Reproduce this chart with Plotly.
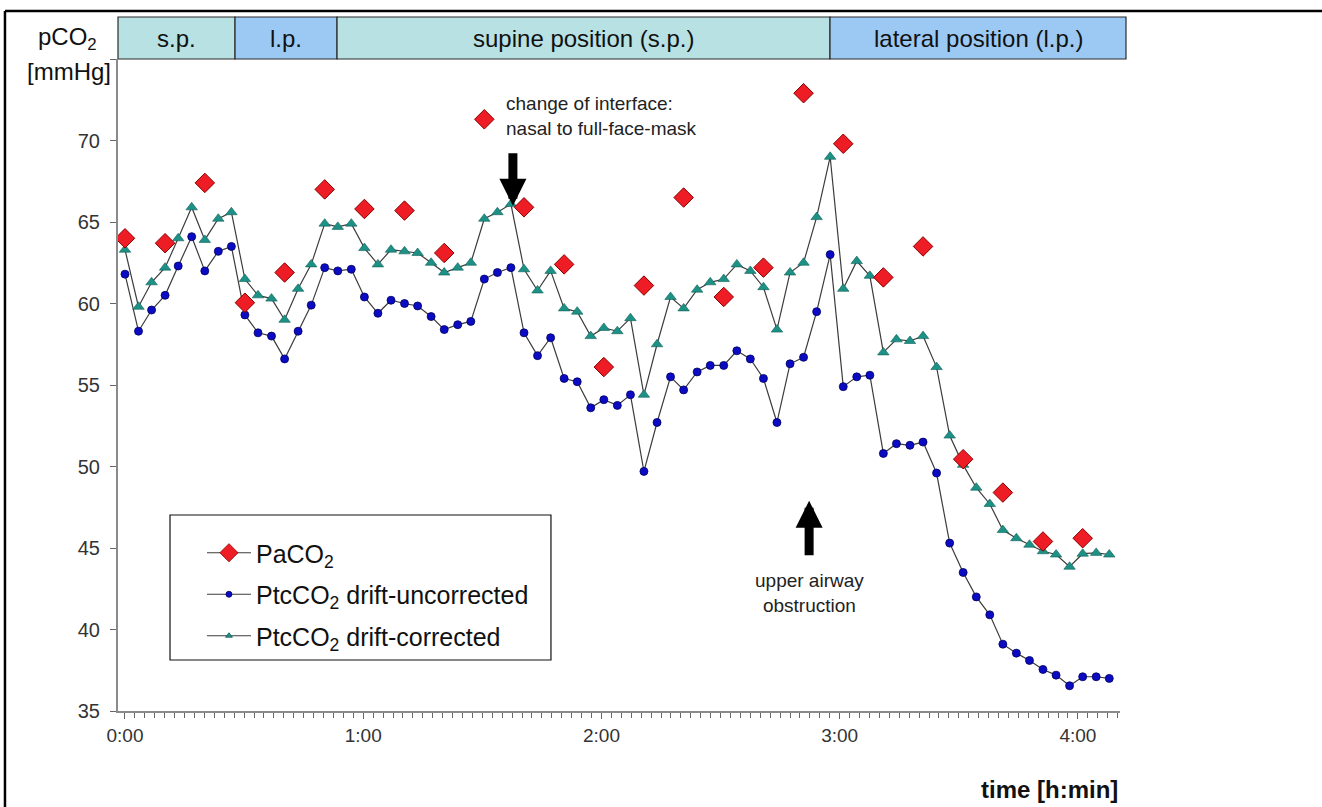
import plotly.graph_objects as go

# ---- data ----
time_min = [0, 3.4, 6.7, 10.1, 13.4, 16.8, 20.1, 23.5, 26.8, 30.2, 33.5, 36.9, 40.2, 43.6, 46.9,
            50.3, 53.6, 57.0, 60.3, 63.7, 67.0, 70.4, 73.7, 77.1, 80.4, 83.8, 87.1, 90.5, 93.8,
            97.2, 100.5, 103.9, 107.2, 110.6, 113.9, 117.3, 120.6, 124.0, 127.3, 130.7, 134.0,
            137.4, 140.7, 144.1, 147.4, 150.8, 154.1, 157.5, 160.8, 164.2, 167.5, 170.9, 174.2,
            177.6, 180.9, 184.3, 187.6, 191.0, 194.3, 197.7, 201.0, 204.4, 207.7, 211.1, 214.4,
            217.8, 221.1, 224.5, 227.8, 231.2, 234.5, 237.9, 241.2, 244.6, 247.9]

ptc_uncorrected = [61.8, 58.3, 59.6, 60.5, 62.3, 64.1, 62.0, 63.2, 63.5, 59.3, 58.2, 58.0, 56.6,
                   58.3, 59.9, 62.2, 62.0, 62.1, 60.4, 59.4, 60.2, 60.0, 59.85, 59.2, 58.4, 58.7,
                   58.9, 61.5, 61.9, 62.2, 58.2, 56.8, 57.9, 55.4, 55.2, 53.6, 54.1, 53.75, 54.4,
                   49.7, 52.7, 55.5, 54.7, 55.8, 56.2, 56.2, 57.1, 56.6, 55.4, 52.7, 56.3, 56.7,
                   59.5, 63.0, 54.9, 55.5, 55.6, 50.8, 51.4, 51.3, 51.5, 49.6, 45.3, 43.5, 42.0,
                   40.9, 39.1, 38.55, 38.1, 37.55, 37.2, 36.55, 37.1, 37.1, 37.0]

ptc_corrected = [63.3, 59.8, 61.3, 62.2, 64.0, 65.9, 63.9, 65.2, 65.6, 61.5, 60.5, 60.3, 59.0,
                 60.9, 62.4, 64.9, 64.7, 64.9, 63.4, 62.4, 63.3, 63.2, 63.1, 62.5, 61.9, 62.2,
                 62.5, 65.2, 65.6, 66.1, 62.1, 60.8, 62.0, 59.7, 59.5, 58.0, 58.5, 58.3, 59.1,
                 54.4, 57.5, 60.4, 59.7, 60.85, 61.3, 61.5, 62.4, 62.0, 61.0, 58.4, 61.9, 62.5,
                 65.3, 69.0, 60.9, 62.6, 61.7, 57.0, 57.8, 57.7, 58.0, 56.1, 51.9, 50.1, 48.7,
                 47.7, 46.1, 45.6, 45.2, 44.8, 44.6, 43.85, 44.65, 44.7, 44.6]

paco2_time = [0, 10.1, 20.1, 30.2, 40.2, 50.3, 60.3, 70.4, 80.4, 90.5, 100.5, 110.6, 120.6,
              130.7, 140.7, 150.8, 160.8, 170.9, 180.9, 191.0, 201.0, 211.1, 221.1, 231.2, 241.2]
paco2 = [64.0, 63.7, 67.4, 60.05, 61.9, 67.0, 65.8, 65.7, 63.1, 71.3, 65.9, 62.4, 56.1, 61.1,
         66.5, 60.4, 62.2, 72.9, 69.8, 61.6, 63.5, 50.45, 48.4, 45.4, 45.6]

x_tick_vals = [0, 60, 120, 180, 240]
x_tick_text = ["0:00", "1:00", "2:00", "3:00", "4:00"]
y_tick_vals = [35, 40, 45, 50, 55, 60, 65, 70, 75]
y_tick_text = ["35", "40", "45", "50", "55", "60", "65", "70", ""]

position_labels = ["s.p.", "l.p.", "supine position (s.p.)", "lateral position (l.p.)"]
position_fill = ["#b7e1e3", "#9cc9f4", "#b7e1e3", "#9cc9f4"]
# band edges as fractions of plot width
position_edges = [0.0, 0.1168, 0.2186, 0.7106, 1.006]

FONT = "Arial, Liberation Sans, sans-serif"
LINE_COL = "#3c3c3c"
BLUE = "#0b0bc4"
TEAL = "#1d9185"
RED = "#ee1c24"

fig = go.Figure()

fig.add_trace(go.Scatter(
    x=time_min, y=ptc_uncorrected, mode="lines+markers", showlegend=False,
    line=dict(color=LINE_COL, width=1.2),
    marker=dict(symbol="circle", size=8, color=BLUE, line=dict(color="#000060", width=0.8)),
))
fig.add_trace(go.Scatter(
    x=time_min, y=ptc_corrected, mode="lines+markers", showlegend=False,
    line=dict(color=LINE_COL, width=1.2),
    marker=dict(symbol="triangle-up", size=10, color=TEAL, line=dict(color="#0f5f58", width=0.6)),
))
fig.add_trace(go.Scatter(
    x=paco2_time, y=paco2, mode="markers", showlegend=False,
    marker=dict(symbol="diamond", size=15, color=RED, line=dict(color="#8a0000", width=1)),
))

# legend entries (line + marker samples)
legend_items = [
    ("PaCO<sub>2</sub>", "diamond", 14, RED, "#8a0000"),
    ("PtcCO<sub>2</sub> drift-uncorrected", "circle", 6, BLUE, "#000060"),
    ("PtcCO<sub>2</sub> drift-corrected", "triangle-up", 6, TEAL, "#0f5f58"),
]
for i, (name, sym, sz, col, edge) in enumerate(legend_items):
    fig.add_trace(go.Scatter(
        x=[None], y=[None], mode="lines+markers", name=name, legendgroup=f"g{i}",
        line=dict(color=LINE_COL, width=1.2),
        marker=dict(symbol=sym, size=sz, color=col, line=dict(color=edge, width=0.8)),
    ))

shapes = []
annotations = []
for i, lab in enumerate(position_labels):
    x0, x1 = position_edges[i], position_edges[i + 1]
    shapes.append(dict(type="rect", xref="paper", yref="paper", x0=x0, x1=x1,
                       y0=1.0, y1=1.0644, fillcolor=position_fill[i],
                       line=dict(color="#2b2b2b", width=1.2), layer="below"))
    annotations.append(dict(xref="paper", yref="paper", x=(x0 + x1) / 2, y=1.0322,
                            text=lab, showarrow=False, xanchor="center", yanchor="middle",
                            font=dict(family=FONT, size=24, color="#111")))

# outer frame (top and left edges)
shapes.append(dict(type="line", xref="paper", yref="paper", x0=-0.1128, x1=1.205,
                   y0=1.0736, y1=1.0736, line=dict(color="black", width=2.5)))
shapes.append(dict(type="line", xref="paper", yref="paper", x0=-0.1128, x1=-0.1128,
                   y0=1.0736, y1=-0.16, line=dict(color="black", width=2.5)))

# legend frame
shapes.append(dict(type="rect", xref="paper", yref="paper", x0=0.0519, x1=0.4321,
                   y0=0.0782, y1=0.3006, fillcolor="white",
                   line=dict(color="#111", width=1.2), layer="above"))

# y axis title
annotations.append(dict(xref="paper", yref="paper", x=-0.019, y=1.0322, xanchor="right",
                        yanchor="middle", showarrow=False, text="pCO<sub>2</sub>",
                        font=dict(family=FONT, size=24, color="#111")))
annotations.append(dict(xref="paper", yref="paper", x=-0.005, y=0.981, xanchor="right",
                        yanchor="middle", showarrow=False, text="[mmHg]",
                        font=dict(family=FONT, size=24, color="#111")))
# x axis title
annotations.append(dict(xref="paper", yref="paper", x=1.0, y=-0.121, xanchor="right",
                        yanchor="middle", showarrow=False, text="<b>time [h:min]</b>",
                        font=dict(family=FONT, size=24, color="#111")))

# event annotations
annotations.append(dict(xref="paper", yref="paper", x=0.385, y=0.9126, xanchor="left",
                        yanchor="middle", showarrow=False, align="left",
                        text="change of interface:<br>nasal to full-face-mask",
                        font=dict(family=FONT, size=19, color="#222")))
annotations.append(dict(x=97.7, y=66.0, xref="x", yref="y", ax=0, ay=-54, showarrow=True,
                        arrowhead=2, arrowsize=0.6, arrowwidth=9, arrowcolor="black", text=""))
annotations.append(dict(x=172.3, y=47.9, xref="x", yref="y", ax=0, ay=56, showarrow=True,
                        arrowhead=2, arrowsize=0.6, arrowwidth=9, arrowcolor="black", text=""))
annotations.append(dict(xref="paper", yref="paper", x=0.69, y=0.181, xanchor="center",
                        yanchor="middle", showarrow=False, align="center",
                        text="upper airway<br>obstruction",
                        font=dict(family=FONT, size=19, color="#222")))

fig.update_layout(
    width=1322, height=807,
    margin=dict(l=118, r=202, t=59, b=96),
    paper_bgcolor="white", plot_bgcolor="white",
    font=dict(family=FONT, size=16, color="#222"),
    shapes=shapes, annotations=annotations,
    legend=dict(x=0.0838, y=0.2776, xanchor="left", yanchor="top",
                borderwidth=0, bgcolor="rgba(0,0,0,0)",
                font=dict(family=FONT, size=25, color="#111"),
                tracegroupgap=6, itemwidth=44),
    xaxis=dict(range=[-1.76, 250.6], tickvals=x_tick_vals, ticktext=x_tick_text,
               showgrid=False, zeroline=False, showline=True, linecolor="#8a8a8a",
               linewidth=2, ticks="outside", ticklen=6, tickcolor="#666",
               tickfont=dict(family=FONT, size=19, color="#333"),
               minor=dict(dtick=2.5, tick0=0, ticks="outside", ticklen=5, tickcolor="#666",
                          showgrid=False)),
    yaxis=dict(range=[35, 75], tickvals=y_tick_vals, ticktext=y_tick_text,
               showgrid=False, zeroline=False, showline=True, linecolor="#8a8a8a",
               linewidth=2, ticks="outside", ticklen=6, tickcolor="#666",
               ticklabelstandoff=6,
               tickfont=dict(family=FONT, size=20, color="#333")),
)

fig.write_html("out.html", post_script="document.body.style.margin='0px';",
               config={"displayModeBar": False})
